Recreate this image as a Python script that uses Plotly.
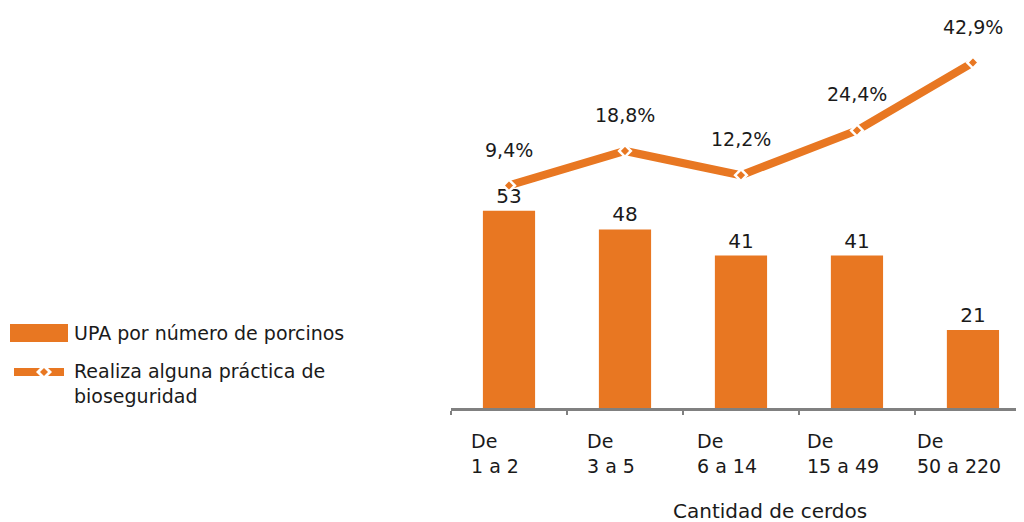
import plotly.graph_objects as go

categories = ["De 1 a 2", "De 3 a 5", "De 6 a 14", "De 15 a 49", "De 50 a 220"]
tick_labels = ["De<br>1 a 2", "De<br>3 a 5", "De<br>6 a 14", "De<br>15 a 49", "De<br>50 a 220"]
upa_values = [53, 48, 41, 41, 21]
bio_pct = [9.4, 18.8, 12.2, 24.4, 42.9]
bio_labels = ["9,4%", "18,8%", "12,2%", "24,4%", "42,9%"]

ORANGE = "#E87722"
TEXT = "#1a1a1a"
FONT = "DejaVu Sans"

# page body has an 8px margin; figure is placed at (8, 8) in the window
OFF = 8
W, H = 1024 - OFF, 522 - OFF
L, R, T, B = 451 - OFF, 0, 10 - OFF, 114
PW, PH = W - L - R, H - T - B


def px(x):
    # x in window pixels -> paper
    return (x - OFF - L) / PW


def py(y):
    # y in window pixels -> paper
    return (H - B - (y - OFF)) / PH


fig = go.Figure()
fig.add_trace(go.Bar(
    x=categories, y=upa_values, width=0.45,
    marker=dict(color=ORANGE, line=dict(width=0)),
    text=[str(v) for v in upa_values], textposition="outside",
    textfont=dict(family=FONT, size=20, color=TEXT),
    cliponaxis=False, showlegend=False,
))
fig.add_trace(go.Scatter(
    x=categories, y=bio_pct, yaxis="y2", mode="lines+markers",
    line=dict(color=ORANGE, width=8),
    marker=dict(symbol="diamond", size=9, color=ORANGE, line=dict(color="white", width=2.5)),
    cliponaxis=False, showlegend=False,
))

annotations = []
for c, v, t in zip(categories, bio_pct, bio_labels):
    annotations.append(dict(x=c, y=v, xref="x", yref="y2", text=t, showarrow=False,
                            yshift=36, font=dict(family=FONT, size=19, color=TEXT)))
for c, t in zip(categories, tick_labels):
    annotations.append(dict(x=c, y=0, xref="x", yref="paper", text=t, showarrow=False,
                            xanchor="center", yanchor="top", align="left", xshift=-14, yshift=-20,
                            font=dict(family=FONT, size=19, color=TEXT)))
annotations.append(dict(x=px(770), y=py(511), xref="paper", yref="paper",
                        xanchor="center", yanchor="middle",
                        text="Cantidad de cerdos", showarrow=False,
                        font=dict(family=FONT, size=20, color=TEXT)))
annotations.append(dict(x=px(72), y=py(333), xref="paper", yref="paper",
                        xanchor="left", yanchor="middle",
                        text="UPA por número de porcinos", showarrow=False,
                        font=dict(family=FONT, size=19, color=TEXT)))
annotations.append(dict(x=px(72), y=py(383), xref="paper", yref="paper",
                        xanchor="left", yanchor="middle", align="left",
                        text="Realiza alguna práctica de<br>bioseguridad", showarrow=False,
                        font=dict(family=FONT, size=19, color=TEXT)))

shapes = [
    dict(type="rect", xref="paper", yref="paper", x0=px(10), x1=px(68), y0=py(342), y1=py(324),
         fillcolor=ORANGE, line=dict(width=0)),
    dict(type="line", xref="paper", yref="paper", x0=px(14), x1=px(64), y0=py(372), y1=py(372),
         line=dict(color=ORANGE, width=8)),
]
# legend marker: white diamond with orange centre
cx, cy = 44, 372
for r, col in ((8, "white"), (4, ORANGE)):
    path = "M {} {} L {} {} L {} {} L {} {} Z".format(
        px(cx), py(cy - r), px(cx + r), py(cy), px(cx), py(cy + r), px(cx - r), py(cy))
    shapes.append(dict(type="path", xref="paper", yref="paper", path=path,
                       fillcolor=col, line=dict(width=0)))

fig.update_layout(
    width=W, height=H,
    margin=dict(l=L, r=R, t=T, b=B),
    paper_bgcolor="white", plot_bgcolor="white",
    showlegend=False,
    xaxis=dict(range=[-0.5, 4.44], showgrid=False, showticklabels=False,
               showline=True, linecolor="#808080", linewidth=3,
               ticks="outside", tickson="boundaries", ticklen=4, tickcolor="#808080", tickwidth=2),
    yaxis=dict(range=[0, 107], visible=False),
    yaxis2=dict(range=[-51.2, 57.2], overlaying="y", visible=False),
    annotations=annotations,
    shapes=shapes,
)

fig.write_html("out.html")
